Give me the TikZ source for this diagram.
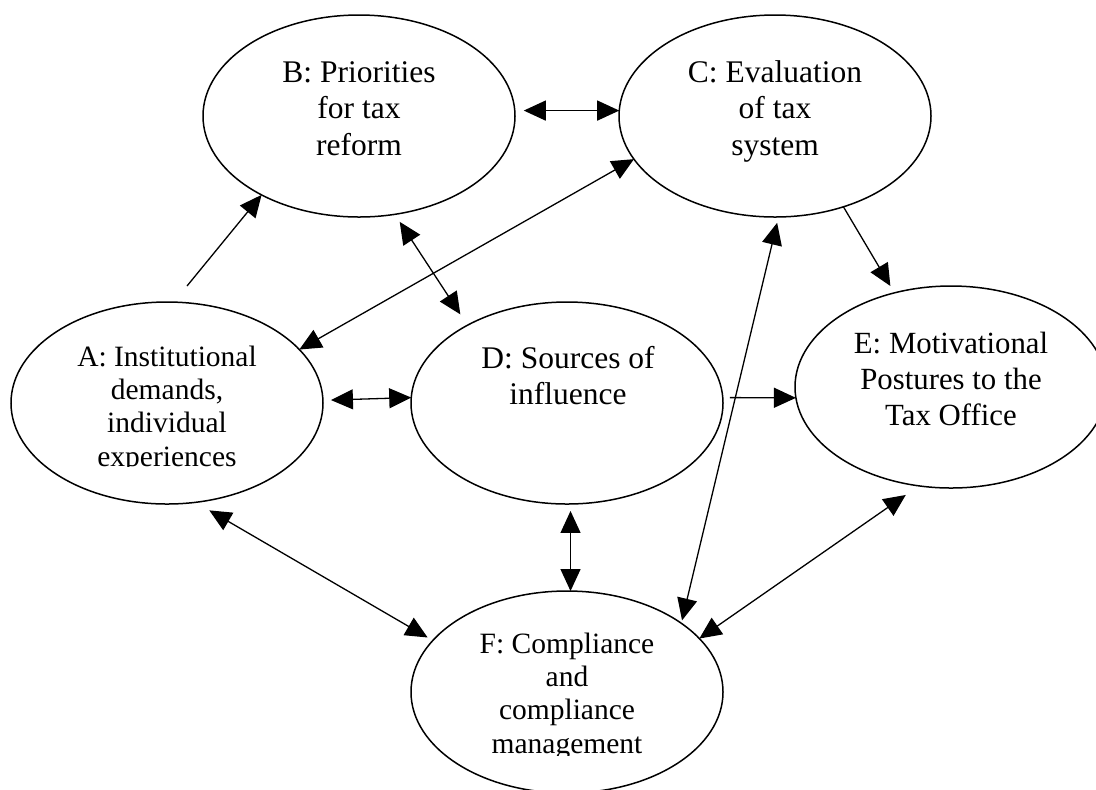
\documentclass[tikz,border=0pt]{standalone}
\usepackage{fontspec}
\setmainfont{Liberation Serif}
\usetikzlibrary{shapes.geometric,arrows.meta}

\begin{document}
\begin{tikzpicture}[x=0.5pt,y=-0.5pt,
  bubble/.style={draw, ellipse, line width=0.75pt, minimum width=156pt,
    minimum height=101pt, inner sep=0pt, outer sep=0pt},
  lbl/.style={anchor=base, inner sep=0pt, font=\fontsize{15.75}{18.4}\selectfont},
  midlbl/.style={lbl, font=\fontsize{15.4}{18}\selectfont},
  tightlbl/.style={lbl, font=\fontsize{14.75}{16.7}\selectfont},
  tip/.tip={Triangle[length=11pt,width=10pt]},
  link/.style={line width=0.65pt, -tip},
  both/.style={line width=0.65pt, tip-tip},
]
\useasboundingbox (0,0) rectangle (1096,789);
\fill[white] (0,0) rectangle (1096,789);
\clip (0,0) rectangle (1096,789);

% the six bubbles
\node[bubble] (A) at (167,403) {};
\node[bubble] (B) at (359,116) {};
\node[bubble] (C) at (775,116) {};
\node[bubble] (D) at (567,403) {};
\node[bubble] (E) at (951,387) {};
\node[bubble] (F) at (567,692) {};

% labels (placed by their first baseline)
\node[lbl] (Bt) at (359,82) {\begin{tabular}[t]{@{}c@{}}B: Priorities\\for tax\\reform\end{tabular}};
\node[lbl] (Ct) at (775,82) {\begin{tabular}[t]{@{}c@{}}C: Evaluation\\of tax\\system\end{tabular}};
\node[lbl] (Dt) at (568,368) {\begin{tabular}[t]{@{}c@{}}D: Sources of\\influence\end{tabular}};
\node[midlbl] (Et) at (951,353) {\begin{tabular}[t]{@{}c@{}}E: Motivational\\Postures to the\\Tax Office\end{tabular}};
\begin{scope}
  \clip (0,0) rectangle (1096,466);
  \node[tightlbl] (At) at (167,366) {\begin{tabular}[t]{@{}c@{}}A: Institutional\\demands,\\individual\\experiences\end{tabular}};
\end{scope}
\begin{scope}
  \clip (0,0) rectangle (1096,755);
  \node[tightlbl] (Ft) at (567,653) {\begin{tabular}[t]{@{}c@{}}F: Compliance\\and\\compliance\\management\end{tabular}};
\end{scope}

% connectors
\coordinate (abtail) at (187,286);
\draw[link] (abtail) -- (B.219);
\draw[both] ([xshift=4.5pt]B.2) -- (C.178);
\draw[both] (A.22) -- (C.197);
\draw[both, shorten <=4.5pt, shorten >=6.5pt] (B.-70) -- (D.142);
\draw[both, shorten <=4pt] (A.1.5) -- (D.178.5);
\draw[link, shorten <=3.5pt] (D.2) -- (E.184);
\draw[link, shorten >=4pt] (C.-53) -- (E.121.5);
\draw[both, shorten <=3pt, shorten >=1.5pt] (C.-88) -- (F.31);
\draw[both, shorten <=3.5pt] (D.-88) -- (F.88);
\draw[both, shorten <=8pt, shorten >=3pt] (A.-74) -- (F.159);
\draw[both, shorten <=8pt] (E.-108) -- (F.22.5);
\end{tikzpicture}
\end{document}
